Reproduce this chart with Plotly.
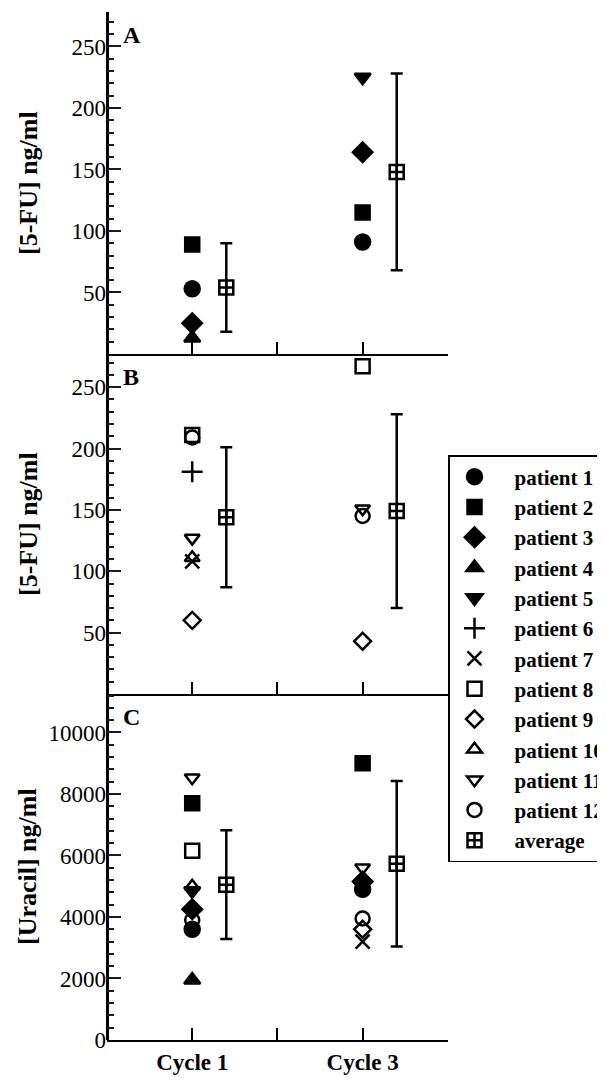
import plotly.graph_objects as go

# ---------------- data ----------------
categories = ["Cycle 1", "Cycle 3"]
patients = [f"patient {i}" for i in range(1, 13)]

# Panel A: [5-FU] ng/ml (patients 1-12; None = not shown)
fu_a_cycle1 = [53, 89, 25, 13, None, None, None, None, None, None, None, None]
fu_a_cycle3 = [91, 115, 164, None, 225, None, None, None, None, None, None, None]
avg_a = [54, 148]
err_a = [36, 80]

# Panel B: [5-FU] ng/ml
fu_b_cycle1 = [None, None, None, None, None, 181, 108, 211, 60, 111, 127, 209]
fu_b_cycle3 = [None, None, None, None, None, None, None, 267, 43, None, 151, 145]
avg_b = [144, 149]
err_b = [57, 79]

# Panel C: [Uracil] ng/ml
ura_c_cycle1 = [3600, 7700, 4250, 1950, 4850, None, None, 6150, None, 5000, 8530, 3900]
ura_c_cycle3 = [4900, 9000, 5150, None, None, None, 3200, None, 3600, None, 5600, 3950]
avg_c = [5050, 5730]
err_c = [1770, 2690]

# ---------------- styles ----------------
symbols = ["circle", "square", "diamond", "triangle-up", "triangle-down",
           "cross-thin-open", "x-thin-open", "square-open", "diamond-open",
           "triangle-up-open", "triangle-down-open", "circle-open"]
sizes = [15, 14, 15, 14, 14, 15, 14, 14, 13, 13, 13, 14]
FONT = "Liberation Serif, Times New Roman, serif"
TICKC = "#1a1a1a"
cat_pos = {c: i * 2 + 1 for i, c in enumerate(categories)}  # Cycle 1 -> 1, Cycle 3 -> 3
avg_offset = 0.4

fig = go.Figure()

panels = [
    ("x", "y", fu_a_cycle1, fu_a_cycle3, avg_a, err_a),
    ("x2", "y2", fu_b_cycle1, fu_b_cycle3, avg_b, err_b),
    ("x3", "y3", ura_c_cycle1, ura_c_cycle3, avg_c, err_c),
]

shown = set()
for xa, ya, c1, c3, avg, err in panels:
    for i, name in enumerate(patients):
        xs, ys = [], []
        for cat, vals in zip(categories, (c1, c3)):
            if vals[i] is not None:
                xs.append(cat_pos[cat])
                ys.append(vals[i])
        show = name not in shown
        shown.add(name)
        fig.add_trace(go.Scatter(
            x=xs if xs else [None], y=ys if ys else [None], mode="markers", name=name,
            legendgroup=name, showlegend=show, xaxis=xa, yaxis=ya,
            marker=dict(symbol=symbols[i], size=sizes[i], color="black",
                        line=dict(width=2.5, color="black")),
        ))
    fig.add_trace(go.Scatter(
        x=[cat_pos[c] + avg_offset for c in categories], y=avg, mode="markers",
        name="average", legendgroup="average", showlegend=("average" not in shown),
        xaxis=xa, yaxis=ya,
        marker=dict(symbol="square-cross-open", size=14, color="black",
                    line=dict(width=2.5, color="black")),
        error_y=dict(type="data", array=err, visible=True, thickness=2.5,
                     width=6, color="black"),
    ))
    shown.add("average")

# empty traces so the minor-tick overlay axes are drawn
for xa, ya in [("x", "y4"), ("x2", "y5"), ("x3", "y6")]:
    fig.add_trace(go.Scatter(x=[None], y=[None], mode="markers", xaxis=xa, yaxis=ya,
                             showlegend=False, hoverinfo="skip"))

# ---------------- geometry (page has an 8px body margin) ----------------
OFF = 8
W, H = 597, 1073
ml = 107 - OFF
plot_right = 448 - OFF
mr = W - plot_right
mt = 12 - OFF
plot_bottom = 1040 - OFF
mb = H - plot_bottom
ph = plot_bottom - mt
pw = plot_right - ml

def py(px):
    return (plot_bottom - (px - OFF)) / ph

def pxf(px):
    return ((px - OFF) - ml) / pw

domA = [py(354), 1.0]
domB = [py(694), py(354)]
domC = [0.0, py(694)]

# x axes: the zero line at x=0 serves as the thick vertical y-axis line
xcommon = dict(range=[0, 4.002], tickmode="array", tickvals=[1, 2, 3, 4],
               ticks="inside", ticklen=12, tickwidth=2, tickcolor="black",
               showline=True, linewidth=2, linecolor="black",
               showgrid=False, zeroline=True, zerolinewidth=3,
               zerolinecolor="black")

def major_axis(dom, rng, step, anchor, hide_zero):
    d = dict(anchor=anchor, domain=dom, range=rng, tickmode="linear", tick0=0,
             dtick=step, tickformat="d",
             ticks="inside", ticklen=14, tickwidth=2, tickcolor=TICKC,
             showline=False, showgrid=False, zeroline=False,
             tickfont=dict(family=FONT, size=23, color="black"))
    if hide_zero:
        d["labelalias"] = {"0": " "}
    return d

def minor_axis(over, rng, step, anchor):
    return dict(overlaying=over, anchor=anchor, side="left", range=rng,
                tickmode="linear", tick0=0, dtick=step,
                ticks="inside", ticklen=7, tickwidth=2, tickcolor=TICKC,
                showticklabels=False, showline=False, showgrid=False,
                zeroline=False)

fig.update_layout(
    xaxis=dict(**xcommon, anchor="y", domain=[0, 1], showticklabels=False),
    xaxis2=dict(**xcommon, anchor="y2", domain=[0, 1], showticklabels=False),
    xaxis3=dict(**xcommon, anchor="y3", domain=[0, 1],
                ticktext=["<b>Cycle 1</b>", "", "<b>Cycle 3</b>", ""],
                tickfont=dict(family=FONT, size=23, color="black")),
    yaxis=major_axis(domA, [0, 278], 50, "x", True),
    yaxis2=major_axis(domB, [0, 277], 50, "x2", True),
    yaxis3=major_axis(domC, [0, 11250], 2000, "x3", False),
    yaxis4=minor_axis("y", [0, 278], 10, "x"),
    yaxis5=minor_axis("y2", [0, 277], 10, "x2"),
    yaxis6=minor_axis("y3", [0, 11250], 400, "x3"),
)

# axis titles and panel letters
titles = [("[5-FU] ng/ml", domA), ("[5-FU] ng/ml", domB), ("[Uracil] ng/ml", domC)]
for text, dom in titles:
    fig.add_annotation(text=f"<b>{text}</b>", xref="paper", yref="paper",
                       x=pxf(28), y=(dom[0] + dom[1]) / 2,
                       xanchor="center", yanchor="middle",
                       textangle=-90, showarrow=False,
                       font=dict(family=FONT, size=26, color="black"))
for letter, ya in [("A", "y"), ("B", "y2"), ("C", "y3")]:
    fig.add_annotation(text=f"<b>{letter}</b>", xref="x domain", yref=f"{ya} domain",
                       x=0.041, y=0.976, xanchor="left", yanchor="top",
                       showarrow=False, font=dict(family=FONT, size=24, color="black"))

fig.update_layout(
    width=W, height=H,
    margin=dict(l=ml, r=mr, t=mt, b=mb, autoexpand=False),
    plot_bgcolor="white", paper_bgcolor="white",
    showlegend=True,
    legend=dict(x=pxf(448), xanchor="left", y=py(455), yanchor="top",
                bordercolor="black", borderwidth=1.5, bgcolor="white",
                font=dict(family=FONT, size=21, color="black", weight="bold"),
                tracegroupgap=0, itemwidth=70, indentation=-15,
                entrywidth=190, entrywidthmode="pixels"),
)

fig.write_html("out.html")
